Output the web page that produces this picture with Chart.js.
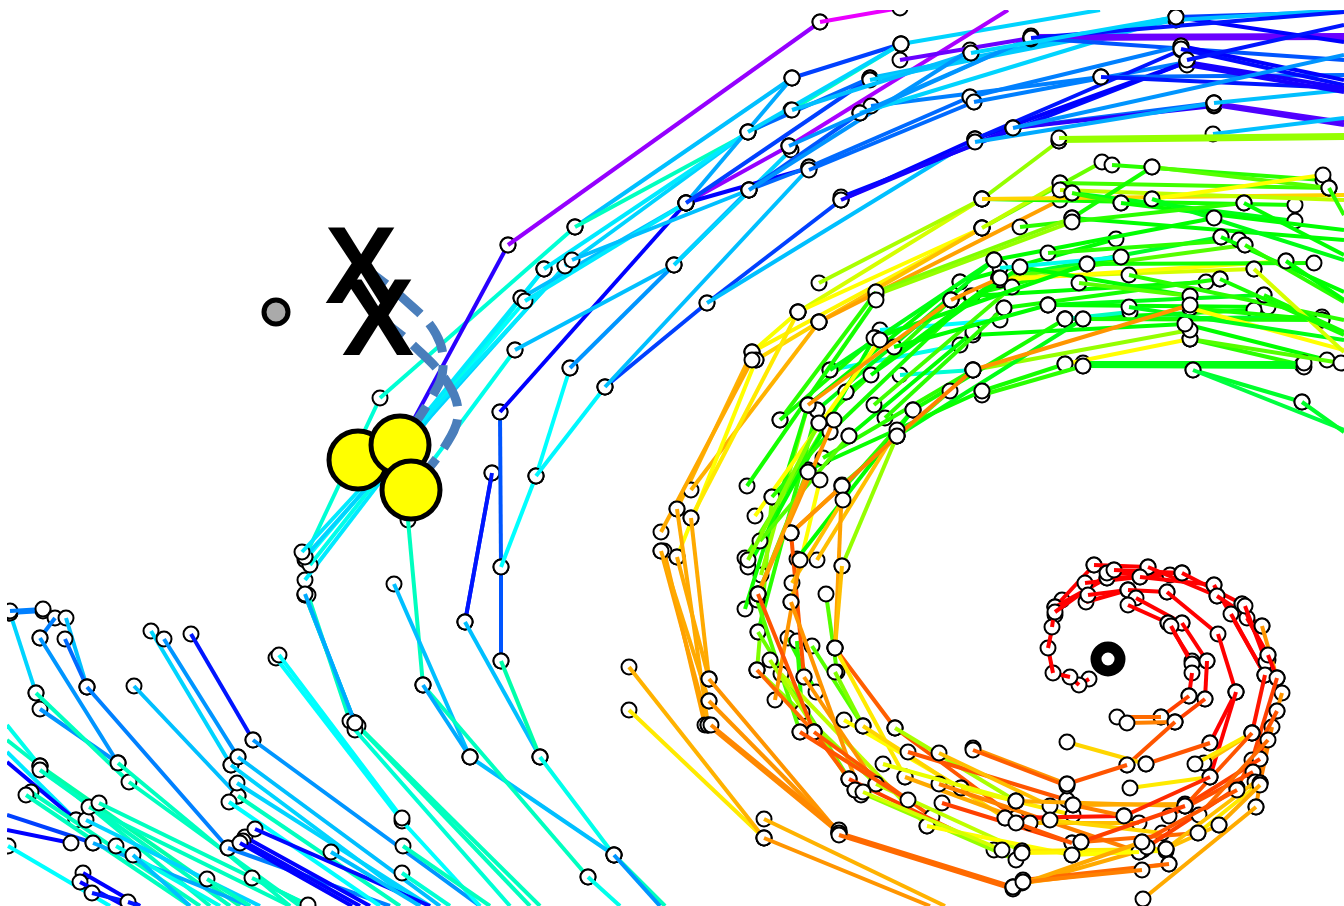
<!DOCTYPE html>
<html>
<head>
<meta charset="utf-8">
<title>Vortex tracks</title>
<script src="https://cdn.jsdelivr.net/npm/chart.js@4"></script>
<style>
html, body { margin: 0; padding: 0; background: #fff; }
canvas { display: block; }
</style>
</head>
<body>
<canvas id="tracks" width="1344" height="906"></canvas>
<script>
// every track: [hue value, x0, y0, x1, y1, ...]
var leftStream = [
    [165,7,740,40,766,210,906],[175,7,725,40,766],[185,7,752,76,820],[240,7,762,76,820],
    [225,7,815,93,843],[240,7,830,71,843],[180,8,846,110,906],[165,31,792,200,906],[165,26,795,190,906],
    [160,40,766,240,906],[165,40,770,230,906],[190,86,820,260,906],[200,93,843,250,906],
    [165,89,807,290,906],[165,99,803,310,906],[175,116,846,220,906],[240,83,873,140,906],
    [240,80,882,125,906],[235,92,893,128,902,140,906],[195,133,855,190,906],
    [190,10,613,36,693],[210,10,613,43,611],[210,10,611,43,609],[210,55,618,40,638],[195,66,618,87,687],
    [215,65,639,87,687],[205,40,638,118,763],[205,40,709,118,763],[165,36,693,129,782,300,906],
    [165,118,763,290,906],[210,87,687,228,848],[210,228,848,390,906],[195,134,686,238,796],
    [165,238,796,400,906],[190,151,631,231,765],[190,231,765,420,906],[205,164,639,238,757],
    [195,238,757,440,906],[190,237,783,430,906],[180,229,802,380,906],[165,207,879,250,906],[165,252,878,308,905],
    [235,191,634,253,740],[205,253,740,480,906],
    [240,245,837,370,906],[240,243,841,360,906],[240,240,843,352,906],[238,255,829,430,906],
    [195,331,852,420,906]
];
var outerBand = [
    [180,276,658,402,821,480,906],[180,279,655,402,818],
    [200,305,595,355,723],[165,305,595,355,723],[165,308,595,350,721],[165,355,723,540,906],[165,358,726,530,906],
    [165,403,846,490,906],[170,402,873,450,906],[170,355,730,510,906],
    [170,305,557,380,398,575,227],[195,575,227,792,78],[225,792,78,901,44],[190,901,44,1100,10],
    [165,575,227,791,110,901,44],
    [185,305,580,521,298],[180,305,560,525,301],[175,310,565,544,269],[190,305,557,565,266],[185,302,552,570,262],
    [250,400,445,508,245],[275,508,245,820,22],[295,820,22,900,8],
    [200,305,594,355,723],[165,408,520,423,685],[175,411,490,515,350],[185,400,445,544,269],
    [225,492,473,465,622],[235,492,473,465,622],[195,465,622,540,757],[220,500,412,501,567,501,661],
    [240,500,412,686,203],[160,501,661,540,757],[175,540,757,614,855],[165,614,855,665,906],
    [195,394,584,470,757],[195,470,757,614,855],[205,614,855,660,906],[165,423,685,588,877],[200,423,685,470,757],[175,588,877,620,906],
    [180,501,567,536,476],[180,536,476,570,368],[182,536,476,605,387],
    [205,570,368,674,265,749,190],[225,605,387,707,303,841,200],[195,605,387,809,168],[195,707,303,975,139],
    [195,515,350,674,265],[195,521,298,686,203],[185,525,301,686,203],[190,565,266,748,132],[185,544,269,748,132],
    [195,572,260,749,190],[190,674,265,791,150],[200,686,203,792,78],[275,686,203,789,146],[280,789,146,1008,10],
    [240,686,203,809,168],[225,686,203,870,78],[215,748,132,870,78],[195,870,78,1176,17],[192,870,80,1176,20],
    [190,748,132,901,44],[195,792,110,971,53],[215,749,190,809,167],[220,749,190,860,113],[205,749,190,970,50],
    [215,809,167,970,97],[215,809,170,974,102],[205,860,113,1031,38],[210,871,106,1101,77],[190,860,113,1176,17],
    [205,789,146,1031,38],[265,900,60,1031,38],[265,1031,36,1344,35],[265,1031,39,1344,38],[220,1031,38,1344,60],
    [210,970,97,1181,46],[210,974,102,1187,62],[240,841,200,975,139],[238,841,197,1187,62],[240,975,139,1187,62],
    [235,975,139,1181,50],[245,841,200,1013,128],[215,1013,128,1214,103],[250,1013,128,1214,106],[200,975,142,1214,103],
    [260,1214,103,1344,122],[258,1214,105,1344,125],[195,1214,103,1344,90],[195,1213,134,1344,118],
    [215,1101,77,1344,75],[235,1101,77,1344,88],[240,1181,46,1344,80],[238,1181,49,1344,85],[245,1187,62,1344,88],[245,1187,65,1344,92],
    [240,1176,17,1344,42],[225,1176,17,1344,12],[195,1176,20,1344,10],[235,1031,38,1344,12],[190,971,53,1176,17],[205,1013,128,1344,55],[235,1187,60,1344,25]
];
var greenBand = [
    [85,982,199,1059,141],[85,1059,141,1344,138],[85,1059,138,1344,135],
    [70,798,312,982,199],[80,819,283,982,199],[62,752,352,798,312],[60,798,312,982,228],[58,752,352,982,228],
    [45,819,322,982,228],[50,756,360,819,322],[38,819,322,1060,200],[95,982,228,1102,162],[75,982,228,1060,183],
    [115,982,199,1295,205],[50,982,199,1344,195],[105,1060,183,1329,188],[75,1060,190,1344,200],[110,1112,165,1323,180],
    [100,1152,167,1329,188],[60,1152,199,1323,175],[115,1072,218,1152,167],[120,1072,218,1344,240],[125,1072,193,1295,221],
    [110,1072,193,1121,203],[120,1121,203,1344,230],[125,1152,199,1344,260],[110,1020,227,1244,203],[120,1244,203,1344,255],
    [90,876,292,1072,218],[85,876,295,1072,222],[110,876,292,780,420],[120,960,282,1116,239],[115,951,300,1121,257],
    [120,994,260,1214,218],[130,999,278,1221,237],[100,999,278,1245,245],[70,999,278,1254,269],[60,1000,280,1286,261],
    [120,971,296,1206,282],[115,1004,308,1220,279],[125,1048,305,1264,295],[120,1048,305,1268,307],[120,1065,319,1254,310],
    [130,1065,319,1322,317],[165,1065,319,1130,312],[115,1083,319,1322,320],[115,1190,308,1322,320],[60,1190,308,1344,350],
    [120,1185,324,1327,360],[110,1190,339,1302,365],[125,1083,366,1304,367],[125,1083,363,1304,363],[130,1193,370,1302,402],
    [135,1193,370,1344,430],[130,1302,402,1344,432],[100,1190,339,1341,363],[60,1065,364,1190,339],[115,982,391,1065,364],
    [110,982,395,1083,366],[85,973,370,1190,330],[120,973,335,1185,324],[120,1020,267,1190,296],[110,1048,253,1239,240],
    [115,1087,264,1314,263],[110,1129,275,1344,320],[125,1129,307,1344,340],[120,1221,237,1344,292],[110,1245,245,1344,302],
    [115,1264,295,1344,332],[70,1254,269,1344,352],[110,1329,188,1344,215],[120,1286,261,1344,300],[115,1220,279,1344,335],
    [100,1079,283,1190,296],[175,1000,268,1121,257],[170,900,375,973,370],[175,830,370,960,345],
    [180,880,330,1000,320],[120,849,436,973,332],[115,830,432,972,296],[120,808,405,960,282],[125,817,410,994,260],
    [115,780,420,875,338],[110,819,423,951,300],[125,830,370,994,260],[120,846,392,999,278],[105,874,405,1012,287],
    [110,885,418,1004,308],[120,871,375,1020,267],[120,894,347,1048,305],[120,875,338,1087,264],[115,913,410,1065,319],
    [125,897,436,1083,319],[118,808,470,982,391],[110,823,458,973,370],[100,842,485,950,391],[110,842,490,913,410],
    [100,745,558,846,392],[115,747,486,876,300],[90,757,670,772,497],[85,761,575,808,405],[110,758,632,817,410],
    [120,748,567,874,338],[100,758,594,808,470],[115,745,609,808,405],[60,755,516,880,340],[85,842,566,897,436],
    [110,772,497,830,432],[100,760,541,849,436],[90,748,560,819,423],[60,791,602,820,480],[120,797,559,913,410],
    [100,837,672,826,594],[100,812,646,863,726],[110,788,638,816,692],[95,758,632,849,779],[85,757,670,876,784],
    [110,797,641,802,712],[90,835,672,863,726],[100,757,600,800,732],[75,781,674,927,826],[80,770,660,855,790]
];
var orangeBand = [
    [42,677,509,752,352],[42,691,490,819,322],[60,677,557,756,360],[55,691,518,798,312],[40,661,532,752,360],
    [38,661,551,708,725],[38,664,551,705,725],[40,661,551,709,701],[40,677,557,709,679],[40,677,509,708,725],[40,691,518,709,679],
    [35,709,679,839,833],[35,709,701,839,833],[32,708,725,839,833],[32,711,725,839,830],[25,839,833,1013,887],[25,839,835,1013,889],
    [55,629,710,764,838],[42,629,667,764,838],[42,764,819,945,906],[35,764,838,930,906],[40,1013,887,1143,850],[42,1022,883,1169,864],
    [35,808,405,951,300],[35,951,300,1000,278],[35,973,370,1190,305],[30,897,436,973,370],[45,817,560,897,430],
    [35,758,594,834,420],[30,791,533,897,436],[35,842,486,791,533],[38,835,648,842,486],[20,804,677,791,533],
    [38,758,594,808,472],[45,792,583,843,500],[35,775,700,800,560],[25,757,670,814,732],[20,758,594,814,732],[22,835,648,895,728],
    [55,835,648,905,777],[45,842,566,835,648],[35,791,602,861,795],[35,804,677,876,784],[22,814,732,849,779],
    [20,895,728,1016,818],[80,895,728,1016,801],[20,814,732,932,817],[60,844,720,961,788],[50,863,726,1005,818],
    [15,849,779,994,850],[75,876,784,1022,851],[85,855,790,1016,860],[20,800,732,908,800],[40,905,777,1030,823],
    [55,961,788,1073,815],[15,942,803,1072,843],[60,927,826,1072,855],[30,939,784,1139,852],[20,908,752,1067,800],
    [65,883,764,1016,801],[70,863,792,1002,850],[45,939,753,1050,806],[35,973,748,1067,784],[22,973,750,1067,786],
    [40,1185,806,1016,801],[40,1185,804,1073,805],[5,1124,816,1005,818],[30,1124,816,1073,805],[45,1139,823,1030,823],
    [20,1072,843,1016,823],[55,1166,849,1022,851],[58,1166,851,1022,853],[60,1139,852,1072,855],[25,1169,864,1023,880],
    [40,1142,842,1013,887],[30,1142,870,1023,882],[50,1162,833,1050,820],[25,1198,833,1081,842]
];
var redCore = [
    [0,1089,679,1079,685,1070,677,1053,673,1048,648,1055,615,1062,600],[0,1052,627,1055,607],[0,1055,607,1094,565],[0,1055,607,1107,578],
    [0,1055,612,1114,570],[0,1086,602,1128,590],[0,1085,583,1140,577],[0,1088,595,1128,590],[0,1107,578,1170,575],[0,1094,565,1148,567],[0,1107,573,1182,573],
    [0,1114,570,1182,573],[0,1148,567,1217,596],[0,1140,577,1214,585],[0,1182,573,1242,604],[0,1128,590,1167,592],
    [0,1167,592,1218,634,1236,692],[0,1236,692,1210,743],[0,1236,692,1210,777],[0,1136,598,1182,623],[0,1128,605,1168,623],
    [0,1182,623,1207,661],[0,1168,623,1192,661],[0,1171,626,1192,664],[0,1207,661,1205,699],[0,1192,673,1189,696],
    [15,1189,696,1161,717],[15,1205,699,1175,722],[25,1161,717,1117,717],[30,1175,722,1127,723],[20,1175,722,1127,765],
    [50,1146,764,1067,742],[20,1210,743,1146,764],[20,1127,765,1067,784],[55,1210,777,1130,788],
    [0,1214,585,1265,675],[0,1217,596,1262,626],[0,1231,614,1265,675],[0,1247,618,1268,655],[0,1242,604,1268,660],[0,1245,606,1266,662],
    [35,1262,626,1277,678],[0,1268,655,1277,678],[5,1265,675,1252,733],[5,1277,711,1260,759],[35,1282,693,1256,782],
    [15,1277,678,1252,760],[30,1272,727,1260,783],[35,1260,783,1256,807],[45,1252,733,1204,763],[55,1252,733,1195,764],
    [20,1277,711,1237,788],[15,1260,759,1185,806],[20,1252,733,1185,806],[15,1237,788,1147,847],[18,1253,772,1169,816],
    [25,1268,740,1199,815],[10,1210,777,1124,816],[15,1185,806,1081,842],[45,1255,782,1166,849],[40,1256,807,1143,899],
    [45,1219,825,1166,849],[55,1260,783,1198,833],[40,1260,785,1219,825],[20,1237,790,1142,842]
];
var dashCurveA = [[361,265],[405,300],[436,334],[443,368],[433,395],[400,445]];
var dashCurveB = [[378,317],[415,347],[447,382],[458,413],[447,443],[411,490]];
var goalX = [276];
var goalY = [312];
var hubX = [358,400,411];
var hubY = [460,445,490];
var swirlX = [1108];
var swirlY = [659];
var crossX = [361,378];
var crossY = [273,325];

var allTracks = [leftStream, outerBand, greenBand, orangeBand, redCore];
var datasets = [];

function dot(x, y, radius, border, fill) {
    return {
        data: x.map(function (v, i) { return {x: v, y: y[i]}; }),
        showLine: false,
        pointRadius: radius,
        pointBorderWidth: border,
        pointBorderColor: '#000',
        pointBackgroundColor: fill,
        clip: 0
    };
}

// tracks running out of the frame have no visible marker at that end
function onEdge(x, y) {
    return x === 7 || x === 1344 || y === 10 || y === 906;
}

allTracks.forEach(function (group) {
    group.forEach(function (track) {
        var colour = 'hsl(' + track[0] + ',100%,50%)';
        if (!onEdge(track[1], track[2])) {
            datasets.push(dot([track[1]], [track[2]], 7.5, 2, '#fff'));
        }
        for (var i = 1; i + 3 < track.length; i += 2) {
            datasets.push({
                data: [{x: track[i], y: track[i + 1]}, {x: track[i + 2], y: track[i + 3]}],
                borderColor: colour,
                borderWidth: 4,
                pointRadius: [0, onEdge(track[i + 2], track[i + 3]) ? 0 : 7.5],
                pointBorderWidth: 2,
                pointBorderColor: '#000',
                pointBackgroundColor: '#fff',
                clip: 0
            });
        }
    });
});

[dashCurveA, dashCurveB].forEach(function (curve) {
    datasets.push({
        data: curve.map(function (p) { return {x: p[0], y: p[1]}; }),
        borderColor: '#4a7ebb',
        borderWidth: 9,
        borderDash: [32, 13],
        tension: 0.4,
        pointRadius: 0,
        clip: 0
    });
});
datasets.push(dot(goalX, goalY, 12, 5, '#aaa'));
datasets.push(dot(swirlX, swirlY, 12, 11, '#fff'));
datasets.push(dot(hubX, hubY, 29, 5, '#ff0'));

// first dataset has to be painted first
datasets.forEach(function (d, i) { d.order = datasets.length - i; });

var crossLabels = {
    id: 'crossLabels',
    afterDatasetsDraw: function (chart) {
        var ctx = chart.ctx;
        ctx.save();
        ctx.fillStyle = '#000';
        ctx.font = 'bold 109px "Liberation Sans"';
        ctx.textAlign = 'center';
        ctx.textBaseline = 'middle';
        crossX.forEach(function (v, i) {
            ctx.fillText('X', chart.scales.x.getPixelForValue(v), chart.scales.y.getPixelForValue(crossY[i]));
        });
        ctx.restore();
    }
};

new Chart(document.querySelector('#tracks'), {
    type: 'line',
    data: {datasets: datasets},
    plugins: [crossLabels],
    options: {
        responsive: false,
        animation: false,
        layout: {autoPadding: false, padding: {left: 7, top: 10}},
        plugins: {legend: {display: false}, tooltip: {enabled: false}},
        scales: {
            x: {type: 'linear', display: false, min: 7, max: 1344},
            y: {type: 'linear', display: false, min: 10, max: 906, reverse: true}
        }
    }
});
</script>
</body>
</html>
